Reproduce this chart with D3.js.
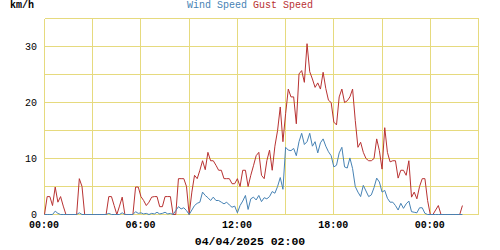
<!DOCTYPE html>
<html>
<head>
<meta charset="utf-8">
<script src="https://cdn.jsdelivr.net/npm/d3@7"></script>
<style>
body { margin: 0; background: #fff; }
svg { display: block; font-family: "Liberation Mono", "DejaVu Sans Mono", monospace; }
</style>
</head>
<body>
<svg id="chart" width="500" height="250"></svg>
<script>
// 10 minute samples, 03/04 00:00 -> 04/04 02:00
var startTime = new Date(2025, 3, 3, 0, 0);
var endTime = new Date(2025, 3, 4, 3, 0);
var stepMinutes = 10;
var seriesNames = ["Wind Speed", "Gust Speed"];
var yTickValues = [0, 10, 20, 30];
var unitLabel = "km/h";
var dateLabel = "04/04/2025 02:00";

var gustSpeed = [0,3.2,3.2,1.6,4.9,2.2,3.2,1.5,0,0,
  0,0,0,6.4,5.0,0,0,0,0,0,
  0,0,0,0,3.2,3.2,1.6,0,1.5,3.1,
  0,0,0,0,4.9,4.9,3.2,2.5,1.6,2.2,
  3.1,3.2,3.2,1.4,1.4,3.2,3.2,3.2,0,0,
  6.4,6.4,6.4,5.0,0,4.0,7.0,6.4,7.9,9.6,
  8.0,11.1,9.6,9.6,8.8,7.9,7.9,6.4,6.4,6.4,
  5.5,5.5,6.4,5.0,7.9,7.9,5.0,7.0,8.7,10.5,
  11.1,7.0,6.4,9.6,11.5,7.9,12.2,15.0,19.2,13.0,
  18.0,22.4,21.0,21.0,16.2,25.1,25.7,23.6,30.5,25.5,
  24.2,22.7,23.5,22.4,25.4,22.5,20.4,20.0,16.5,16.0,
  21.0,22.4,20.0,20.3,21.0,22.4,16.8,12.0,12.9,11.1,
  10.0,9.6,9.6,10.0,13.5,11.4,8.1,15.5,11.1,9.4,
  9.6,9.6,6.5,7.9,7.9,7.0,9.6,3.1,4.0,2.8,
  5.0,6.4,6.4,2.5,0,0,0.8,1.6,0,0,
  0,0,0,0,0,0,1.6];

var windSpeed = [0,0,0,0,0.6,0.2,0,0,0,0,
  0,0,0,0.3,0,0,0,0,0,0,
  0,0,0,0,0.2,0,0,0,0,0.3,
  0,0,0,0,0.5,0.2,0.3,0.1,0.2,0,
  0.2,0.1,0.4,0.1,0.2,0.4,0.1,0.2,0,0.7,
  1.4,1.0,1.2,0.7,0,0.8,1.6,2.0,2.2,4.0,
  3.4,3.0,2.5,3.1,2.5,2.5,2.2,1.9,2.2,1.7,
  1.3,1.5,0.3,1.6,2.4,3.4,0.9,2.8,3.1,2.6,
  3.4,2.3,3.0,2.8,3.2,4.1,3.8,5.0,6.6,4.5,
  12.0,11.5,11.4,11.8,10.5,13.0,14.5,12.5,13.0,14.5,
  12.2,13.0,11.0,12.8,13.5,12.2,11.2,10.5,8.5,8.8,
  11.0,12.0,8.5,8.3,10.1,8.2,5.0,4.0,3.2,5.2,
  4.2,3.2,3.5,4.8,6.5,5.8,4.0,4.3,2.9,2.2,
  2.2,1.6,0.8,2.0,1.1,1.9,2.4,0.5,0.4,0.3,
  1.2,1.2,0.2,0,0,0,0,0,0,0,
  0,0,0,0,0,0,0];

var blue = "#4682b4", red = "#b83232", gridColor = "#e6da7e";

var svg = d3.select("#chart");

var x = d3.scaleTime()
    .domain([startTime, endTime])
    .range([44, 478]);

var y = d3.scaleLinear()
    .domain([0, 35])
    .range([214, 18]);

var times = gustSpeed.map(function(d, i) {
    return d3.timeMinute.offset(startTime, i * stepMinutes);
});

var grid = svg.append("g")
    .attr("transform", "translate(0.5,0.5)")
    .attr("shape-rendering", "crispEdges")
    .attr("stroke", gridColor)
    .attr("stroke-width", 1);

grid.selectAll(".hgrid")
    .data(d3.range(0, 36, 5))
    .enter().append("line")
    .attr("x1", x.range()[0]).attr("x2", x.range()[1])
    .attr("y1", function(d) { return Math.round(y(d)); })
    .attr("y2", function(d) { return Math.round(y(d)); });

grid.selectAll(".vgrid")
    .data(x.ticks(d3.timeHour.every(3)))
    .enter().append("line")
    .attr("x1", function(d) { return Math.round(x(d)); })
    .attr("x2", function(d) { return Math.round(x(d)); })
    .attr("y1", y.range()[1]).attr("y2", y.range()[0]);

var line = d3.line()
    .x(function(d, i) { return x(times[i]); })
    .y(function(d) { return y(d); });

var lines = svg.append("g")
    .attr("transform", "translate(0.5,0.5)");

lines.append("path")
    .datum(gustSpeed)
    .attr("fill", "none")
    .attr("stroke", red)
    .attr("stroke-width", 1)
    .attr("d", line);

lines.append("path")
    .datum(windSpeed)
    .attr("fill", "none")
    .attr("stroke", blue)
    .attr("stroke-width", 1)
    .attr("d", line);

// y axis labels
svg.append("g")
    .attr("font-size", 10)
    .selectAll("text")
    .data(yTickValues)
    .enter().append("text")
    .attr("x", 37)
    .attr("y", function(d) { return y(d) + 3.5; })
    .attr("text-anchor", "end")
    .attr("fill", "#000")
    .text(function(d) { return d; });

// x axis labels
svg.append("g")
    .attr("font-size", 10)
    .attr("font-weight", "bold")
    .selectAll("text")
    .data(x.ticks(d3.timeHour.every(6)))
    .enter().append("text")
    .attr("x", function(d) { return x(d); })
    .attr("y", 228)
    .attr("text-anchor", "middle")
    .attr("fill", "#000")
    .text(d3.timeFormat("%H:%M"));

svg.append("text")
    .attr("x", 10)
    .attr("y", 8)
    .attr("font-size", 10)
    .attr("font-weight", "bold")
    .text(unitLabel);

var title = svg.append("text")
    .attr("x", 250)
    .attr("y", 8)
    .attr("font-size", 10)
    .attr("text-anchor", "middle");
title.append("tspan").attr("fill", blue).text(seriesNames[0]);
title.append("tspan").attr("fill", red).text(" " + seriesNames[1]);

svg.append("text")
    .attr("x", 250)
    .attr("y", 245)
    .attr("font-size", 11.5)
    .attr("font-weight", "bold")
    .attr("text-anchor", "middle")
    .text(dateLabel);
</script>
</body>
</html>
